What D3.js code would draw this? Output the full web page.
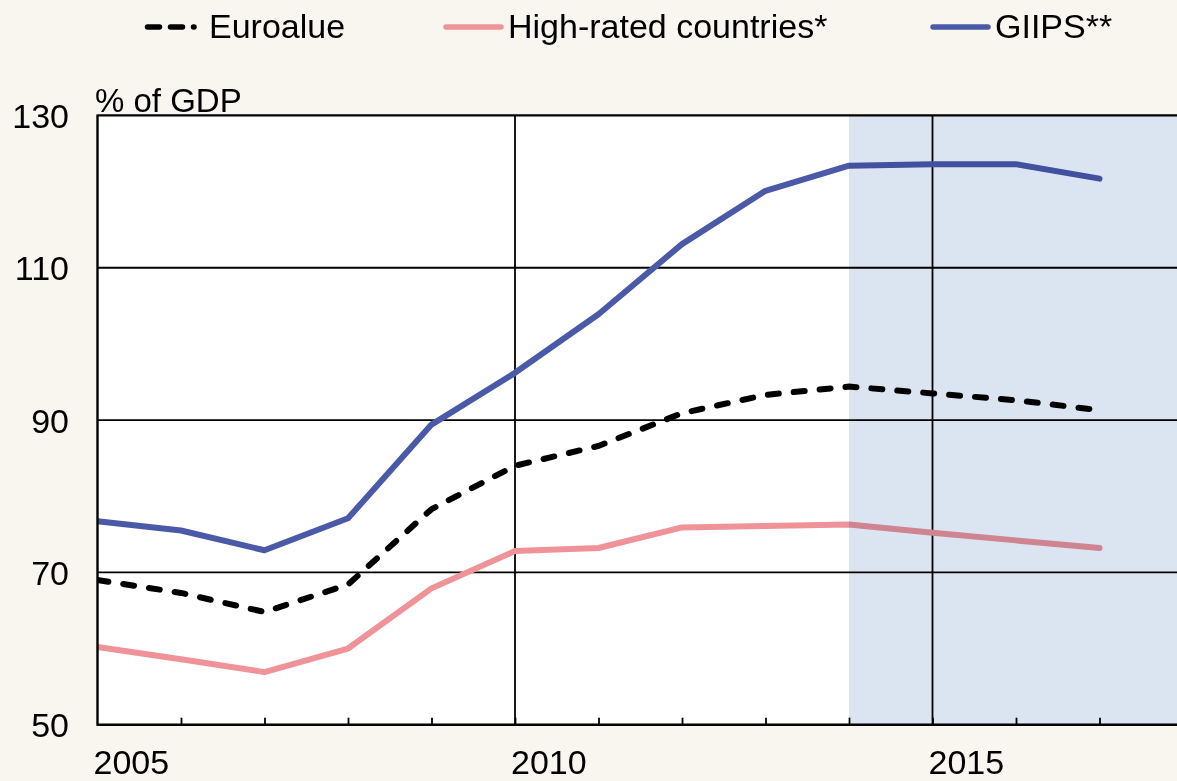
<!DOCTYPE html>
<html>
<head>
<meta charset="utf-8">
<script src="https://cdn.jsdelivr.net/npm/d3@7"></script>
<style>
html,body{margin:0;padding:0;background:#f9f5ef;}
svg{display:block;font-family:"Liberation Sans",Arial,sans-serif;}
</style>
</head>
<body>
<svg id="chart" width="1177" height="781"></svg>
<script>
const years = [2005,2006,2007,2008,2009,2010,2011,2012,2013,2014,2015,2016,2017];
const euroArea = [69.0,67.3,64.8,68.4,78.3,84.0,86.6,90.9,93.3,94.4,93.5,92.6,91.3];
const highRated = [60.2,58.6,56.9,60.0,67.9,72.8,73.2,75.9,76.1,76.3,75.2,74.2,73.2];
const giips = [76.7,75.5,72.9,77.1,89.4,96.2,103.9,113.1,120.1,123.4,123.6,123.6,121.7];
const yTicks = [50,70,90,110,130];
const xLabels = [2005,2010,2015];
const seriesNames = ["Euroalue","High-rated countries*","GIIPS**"];
const forecastStart = 2014;

(function(){
const svg = d3.select("#chart");
const W = 1177, H = 781;
const FS = 34;
svg.append("rect").attr("width",W).attr("height",H).attr("fill","#f9f5ef");

const x = d3.scaleLinear().domain([2005,2018]).range([97.5,1183]);
const y = d3.scaleLinear().domain([50,130]).range([724.7,115.4]);
const pL = x(2005), pR = W, pT = y(130), pB = y(50);

svg.append("defs").append("clipPath").attr("id","clip")
  .append("rect").attr("x",pL).attr("y",pT-3).attr("width",pR-pL).attr("height",pB-pT+6);

const plot = svg.append("g");
plot.append("rect").attr("x",pL).attr("y",pT).attr("width",pR-pL).attr("height",pB-pT).attr("fill","#ffffff");

// gridlines
const grid = plot.append("g").attr("clip-path","url(#clip)");
yTicks.filter(t=>t>50).forEach(t=>{
  grid.append("line").attr("x1",pL).attr("x2",pR).attr("y1",y(t)).attr("y2",y(t))
    .attr("stroke","#000").attr("stroke-width",t===130?2.2:1.8);
});
[2010,2015].forEach(t=>{
  grid.append("line").attr("x1",x(t)).attr("x2",x(t)).attr("y1",pT).attr("y2",pB)
    .attr("stroke","#000").attr("stroke-width",1.8);
});

// lines
const line = d3.line().x((d,i)=>x(years[i])).y(d=>y(d));
const lines = plot.append("g").attr("clip-path","url(#clip)");
lines.append("path").datum(highRated).attr("d",line).attr("fill","none")
  .attr("stroke","#f09399").attr("stroke-width",6).attr("stroke-linecap","round").attr("stroke-linejoin","round");
lines.append("path").datum(giips).attr("d",line).attr("fill","none")
  .attr("stroke","#4b5aa8").attr("stroke-width",6).attr("stroke-linecap","round").attr("stroke-linejoin","round");
lines.append("path").datum(euroArea).attr("d",line).attr("fill","none")
  .attr("stroke","#000").attr("stroke-width",6).attr("stroke-dasharray","11,15").attr("stroke-linecap","round");

// forecast shading (multiply over lines)
plot.append("rect").attr("x",x(forecastStart)).attr("y",pT).attr("width",pR-x(forecastStart)).attr("height",pB-pT)
  .attr("fill","#dbe5f1").style("mix-blend-mode","multiply");

// axes
svg.append("line").attr("x1",pL).attr("x2",pL).attr("y1",pT-1).attr("y2",pB+1).attr("stroke","#000").attr("stroke-width",2.4);
svg.append("line").attr("x1",pL).attr("x2",pR).attr("y1",pB).attr("y2",pB).attr("stroke","#000").attr("stroke-width",2.4);
const xAxis = d3.axisBottom(x).tickValues(d3.range(2006,2018)).tickSize(-7).tickFormat("");
const xg = svg.append("g").attr("transform",`translate(0,${pB})`).call(xAxis);
xg.select(".domain").remove();
xg.selectAll(".tick line").attr("stroke","#000").attr("stroke-width",1.8);

// y tick labels
const yAxis = d3.axisLeft(y).tickValues(yTicks).tickSize(0).tickPadding(0);
const yg = svg.append("g").attr("transform",`translate(69,0)`).call(yAxis);
yg.select(".domain").remove();
yg.selectAll(".tick text").attr("font-size",FS).attr("fill","#000").attr("font-family","Liberation Sans, Arial, sans-serif").attr("dy","0.36em");

// x labels
svg.append("g").selectAll("text").data(xLabels).join("text")
  .attr("x",d=>x(d)-4).attr("y",774).attr("font-size",FS).attr("fill","#000").text(d=>d);

// unit label
svg.append("text").attr("x",95).attr("y",112).attr("font-size",FS-1).attr("fill","#000").text("% of GDP");

// legend
const leg = svg.append("g");
leg.append("line").attr("x1",147.5).attr("x2",198).attr("y1",27).attr("y2",27)
  .attr("stroke","#000").attr("stroke-width",5.5).attr("stroke-linecap","round").attr("stroke-dasharray","12,11,12,11,0.5,100");
leg.append("text").attr("x",209).attr("y",38).attr("font-size",FS).text(seriesNames[0]);
leg.append("line").attr("x1",446).attr("x2",501).attr("y1",27).attr("y2",27)
  .attr("stroke","#f09399").attr("stroke-width",5.5).attr("stroke-linecap","round");
leg.append("text").attr("x",508).attr("y",38).attr("font-size",FS).text(seriesNames[1]);
leg.append("line").attr("x1",933).attr("x2",988).attr("y1",27).attr("y2",27)
  .attr("stroke","#4b5aa8").attr("stroke-width",5.5).attr("stroke-linecap","round");
leg.append("text").attr("x",995).attr("y",38).attr("font-size",FS).text(seriesNames[2]);
})();
</script>
</body>
</html>
